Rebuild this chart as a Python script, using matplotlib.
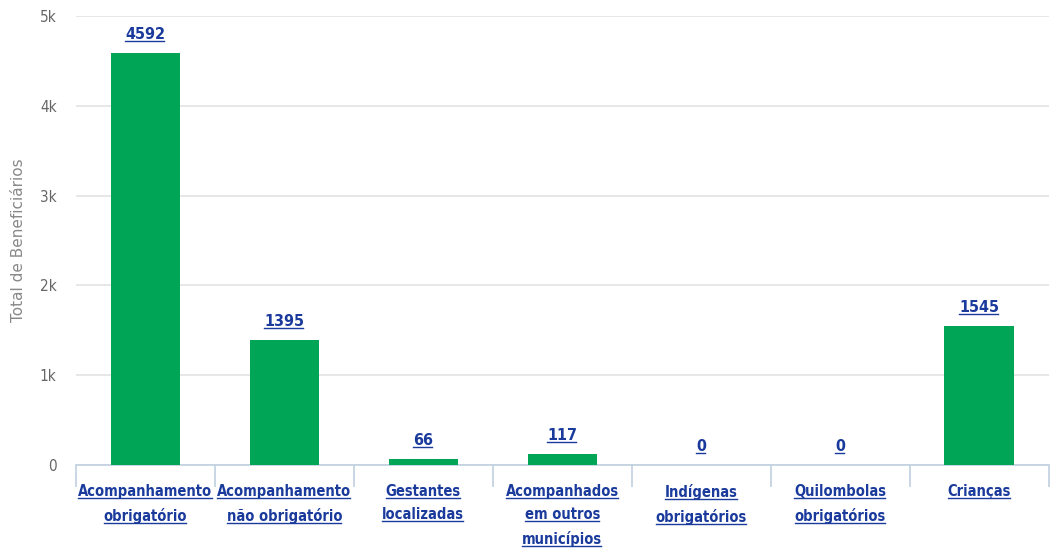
import numpy as np
import matplotlib.pyplot as plt
from matplotlib.lines import Line2D

categorias = ["Acompanhamento\nobrigatório", "Acompanhamento\nnão obrigatório",
              "Gestantes\nlocalizadas", "Acompanhados\nem outros\nmunicípios",
              "Indígenas\nobrigatórios", "Quilombolas\nobrigatórios", "Crianças"]
valores = [4592, 1395, 66, 117, 0, 0, 1545]
yticks = [0, 1000, 2000, 3000, 4000, 5000]
ytick_labels = ["0", "1k", "2k", "3k", "4k", "5k"]

plt.rcParams['font.family'] = ['DejaVu Sans']
plt.rcParams['font.stretch'] = 'condensed'

fig = plt.figure(figsize=(10.55, 5.52), dpi=100)
ax = fig.add_axes([0.072, 0.1576, 0.922, 0.8134])

x = np.arange(len(valores))
ax.bar(x, valores, width=0.5, color="#00a556", zorder=3)

ax.set_xlim(-0.5, len(valores) - 0.5)
ax.set_ylim(0, 5000)
ax.set_yticks(yticks)
ax.set_yticklabels(ytick_labels, color="#666666", fontsize=11)
ax.yaxis.grid(True, color="#e3e3e3", linewidth=1.2, zorder=0)
ax.tick_params(axis='y', length=0, pad=14)
ax.set_ylabel("Total de Beneficiários", color="#888888", fontsize=11,
              fontstretch='normal', labelpad=10)

for s in ["top", "right", "left"]:
    ax.spines[s].set_visible(False)
ax.spines["bottom"].set_color("#c0d0e0")
ax.spines["bottom"].set_linewidth(1.2)

# category separators below the axis
ax.set_xticks(np.arange(len(valores) + 1) - 0.5, minor=True)
ax.tick_params(axis='x', which='minor', length=16, color="#c0d0e0", width=1.2)
ax.set_xticks(x)
ax.set_xticklabels(categorias, color="#1a3a9c", fontsize=10.5, fontweight='bold',
                   linespacing=1.65)
ax.tick_params(axis='x', which='major', length=0, pad=14)

labels = []
for xi, v in zip(x, valores):
    t = ax.annotate(str(v), (xi, v), xytext=(0, 8), textcoords='offset points',
                    ha='center', va='bottom', color="#1a3a9c", fontsize=11.5,
                    fontweight='bold')
    labels.append(t)

# underline the link-style texts (per line, at each baseline)
fig.canvas.draw()
r = fig.canvas.get_renderer()
inv = fig.transFigure.inverted()
def underline(t):
    _, info, _ = t._get_layout(r)
    px, py = t.get_transform().transform(t.get_unitless_position())
    for line, (w, h), lx, ly in info:
        yb = py + ly - 2
        p0 = inv.transform((px + lx, yb))
        p1 = inv.transform((px + lx + w - 1, yb))
        fig.add_artist(Line2D([p0[0], p1[0]], [p0[1], p1[1]], color=t.get_color(),
                              linewidth=1, transform=fig.transFigure))
for t in labels + list(ax.get_xticklabels()):
    underline(t)

fig.savefig("out.png", dpi=100)
